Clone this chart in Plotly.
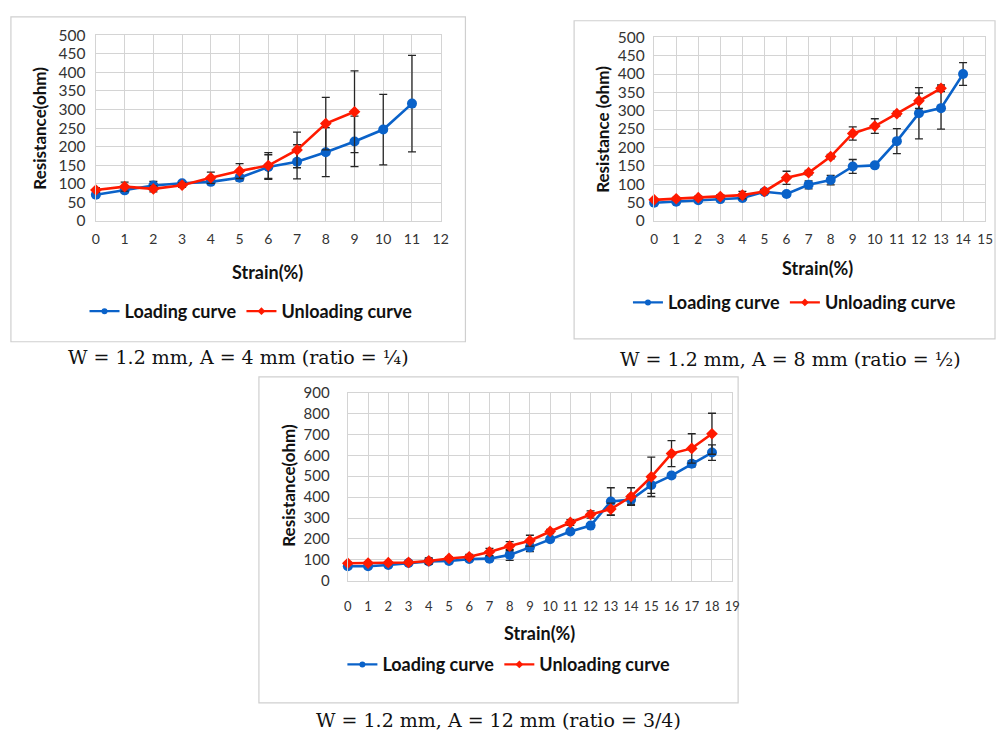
import plotly.graph_objects as go

W, H = 1005, 744

# ---------------- data ----------------
strain1_load = list(range(12))
load1 = [70, 82, 95, 101, 105, 116, 145, 159, 185, 214, 246, 316]
load1_err = [5, 6, 11, 5, 5, 8, 33, 46, 66, 68, 95, 130]
strain1_unload = list(range(10))
unload1 = [83, 92, 86, 96, 116, 134, 149, 191, 262, 294]
unload1_err = [6, 12, 8, 6, 15, 20, 35, 48, 71, 110]

strain2_load = list(range(15))
load2 = [49, 52, 56, 59, 62, 79, 73, 98, 111, 148, 151, 217, 293, 307, 400]
load2_err = [4, 4, 4, 4, 5, 5, 5, 11, 13, 19, 6, 34, 70, 57, 31]
strain2_unload = list(range(14))
unload2 = [57, 60, 63, 66, 70, 80, 117, 131, 175, 238, 258, 292, 327, 361]
unload2_err = [4, 4, 4, 5, 10, 5, 18, 6, 6, 18, 20, 6, 21, 9]

strain3 = list(range(19))
load3 = [70, 70, 76, 85, 93, 95, 104, 106, 124, 160, 199, 236, 264, 379, 388, 458, 503, 560, 613]
load3_err = [5, 5, 5, 5, 10, 5, 8, 10, 26, 20, 8, 8, 8, 66, 22, 40, 10, 15, 37]
unload3 = [84, 85, 87, 88, 95, 107, 115, 138, 166, 192, 236, 279, 317, 343, 403, 497, 608, 633, 703]
unload3_err = [5, 5, 5, 5, 15, 8, 12, 17, 21, 26, 10, 14, 17, 28, 42, 94, 62, 70, 98]

captions = ["W = 1.2 mm, A = 4 mm (ratio = ¼)",
            "W = 1.2 mm, A = 8 mm (ratio = ½)",
            "W = 1.2 mm, A = 12 mm (ratio = 3/4)"]
ytitles = ["Resistance(ohm)", "Resistance (ohm)", "Resistance(ohm)"]
xtitle = "Strain(%)"
names = ["Loading curve", "Unloading curve"]

# ---------------- style ----------------
BLUE = "#0a62c9"
RED = "#ff1a00"
ERR = "#262626"
GRID = "#d4d4d4"
FONT = "Lato"
TICKC = "#333333"

def px(x):
    return x / W

def py(y):
    return 1 - y / H

fig = go.Figure()

charts = [
    dict(xl=strain1_load, yl=load1, el=load1_err, xu=strain1_unload, yu=unload1, eu=unload1_err,
         plot=(93, 442, 26, 216), xr=12, yr=500, ydt=50, leg=(250, 309), frame=(7, 467, 7, 340),
         cap=(237, 356), ytit=(36, 121), xtit=(267, 269), lsoff=6, xsoff=5, yfs=15.5, xfs=14),
    dict(xl=strain2_load, yl=load2, el=load2_err, xu=strain2_unload, yu=unload2, eu=unload2_err,
         plot=(658, 993, 28, 216), xr=15, yr=500, ydt=50, leg=(800, 300), frame=(577, 1003, 11, 337),
         cap=(796, 358), ytit=(605, 122), xtit=(823, 264), lsoff=5, xsoff=6, yfs=15.5, xfs=13.5),
    dict(xl=strain3, yl=load3, el=load3_err, xu=strain3, yu=unload3, eu=unload3_err,
         plot=(348, 737, 392, 585), xr=19, yr=900, ydt=100, leg=(511, 671), frame=(258, 743, 376, 710),
         cap=(500, 728), ytit=(288, 487), xtit=(542, 638), lsoff=14, xsoff=13, yfs=15, xfs=13),
]

shapes = []
annotations = []
layout_axes = {}

for i, c in enumerate(charts, start=1):
    sfx = "" if i == 1 else str(i)
    xa = "x" + sfx
    ya = "y" + sfx
    leg = "legend" + sfx
    fig.add_trace(go.Scatter(
        x=c["xl"], y=c["yl"], mode="lines+markers", name=names[0], showlegend=False,
        xaxis=xa, yaxis=ya, cliponaxis=False,
        line=dict(color=BLUE, width=2.6),
        marker=dict(symbol="circle", size=10, color=BLUE),
        error_y=dict(type="data", array=c["el"], color=ERR, thickness=1.3, width=4),
    ))
    fig.add_trace(go.Scatter(
        x=c["xu"], y=c["yu"], mode="lines+markers", name=names[1], showlegend=False,
        xaxis=xa, yaxis=ya, cliponaxis=False,
        line=dict(color=RED, width=2.6),
        marker=dict(symbol="diamond", size=9, color=RED),
        error_y=dict(type="data", array=c["eu"], color=ERR, thickness=1.3, width=4),
    ))
    # legend entries (small symbols like the original)
    for nm, col, sym in ((names[0], BLUE, "circle"), (names[1], RED, "diamond")):
        fig.add_trace(go.Scatter(
            x=[None], y=[None], mode="lines+markers", name=nm, showlegend=True,
            xaxis=xa, yaxis=ya, legend=leg,
            line=dict(color=col, width=2.2),
            marker=dict(symbol=sym, size=6, color=col),
        ))
    x0, x1, y0, y1 = c["plot"]
    layout_axes["xaxis" + sfx] = dict(
        domain=[px(x0), px(x1)], range=[0, c["xr"]], dtick=1, tick0=0,
        anchor=ya, showgrid=True, gridcolor=GRID, gridwidth=1.4,
        showline=True, linecolor=GRID, linewidth=1.4, mirror=True, zeroline=False,
        ticks="", ticklabelstandoff=c["xsoff"],
        tickfont=dict(family=FONT, size=c["xfs"], color=TICKC), fixedrange=True,
    )
    layout_axes["yaxis" + sfx] = dict(
        domain=[py(y1), py(y0)], range=[0, c["yr"]], dtick=c["ydt"], tick0=0,
        anchor=xa, showgrid=True, gridcolor=GRID, gridwidth=1.4,
        showline=True, linecolor=GRID, linewidth=1.4, mirror=True, zeroline=False,
        ticks="", ticklabelstandoff=c["lsoff"],
        tickfont=dict(family=FONT, size=c["yfs"], color=TICKC), fixedrange=True,
    )
    layout_axes[leg] = dict(
        x=px(c["leg"][0]), y=py(c["leg"][1]), xanchor="center", yanchor="middle",
        orientation="h", bgcolor="rgba(0,0,0,0)", itemsizing="trace", itemwidth=30,
        font=dict(family=FONT, size=18, color="#111111", weight="bold"),
        traceorder="normal", itemclick=False, itemdoubleclick=False,
    )
    fx0, fx1, fy0, fy1 = c["frame"]
    shapes.append(dict(type="rect", xref="paper", yref="paper",
                       x0=px(fx0), x1=px(fx1), y0=py(fy1), y1=py(fy0),
                       line=dict(color="#cfcfcf", width=1.2), fillcolor="rgba(0,0,0,0)", layer="below"))
    annotations.append(dict(text=captions[i - 1], xref="paper", yref="paper",
                            x=px(c["cap"][0]), y=py(c["cap"][1]), xanchor="center", yanchor="middle",
                            showarrow=False, font=dict(family="DejaVu Serif", size=19, color="#111111")))
    annotations.append(dict(text="<b>" + ytitles[i - 1] + "</b>", xref="paper", yref="paper",
                            x=px(c["ytit"][0]), y=py(c["ytit"][1]), xanchor="center", yanchor="middle",
                            textangle=-90, showarrow=False,
                            font=dict(family=FONT, size=17, color="#111111")))
    annotations.append(dict(text="<b>" + xtitle + "</b>", xref="paper", yref="paper",
                            x=px(c["xtit"][0]), y=py(c["xtit"][1]), xanchor="center", yanchor="middle",
                            showarrow=False, font=dict(family=FONT, size=18, color="#111111")))

fig.update_layout(
    width=W, height=H, margin=dict(l=0, r=0, t=0, b=0),
    paper_bgcolor="white", plot_bgcolor="white",
    shapes=shapes, annotations=annotations,
    **layout_axes,
)

fig.write_html("out.html")
